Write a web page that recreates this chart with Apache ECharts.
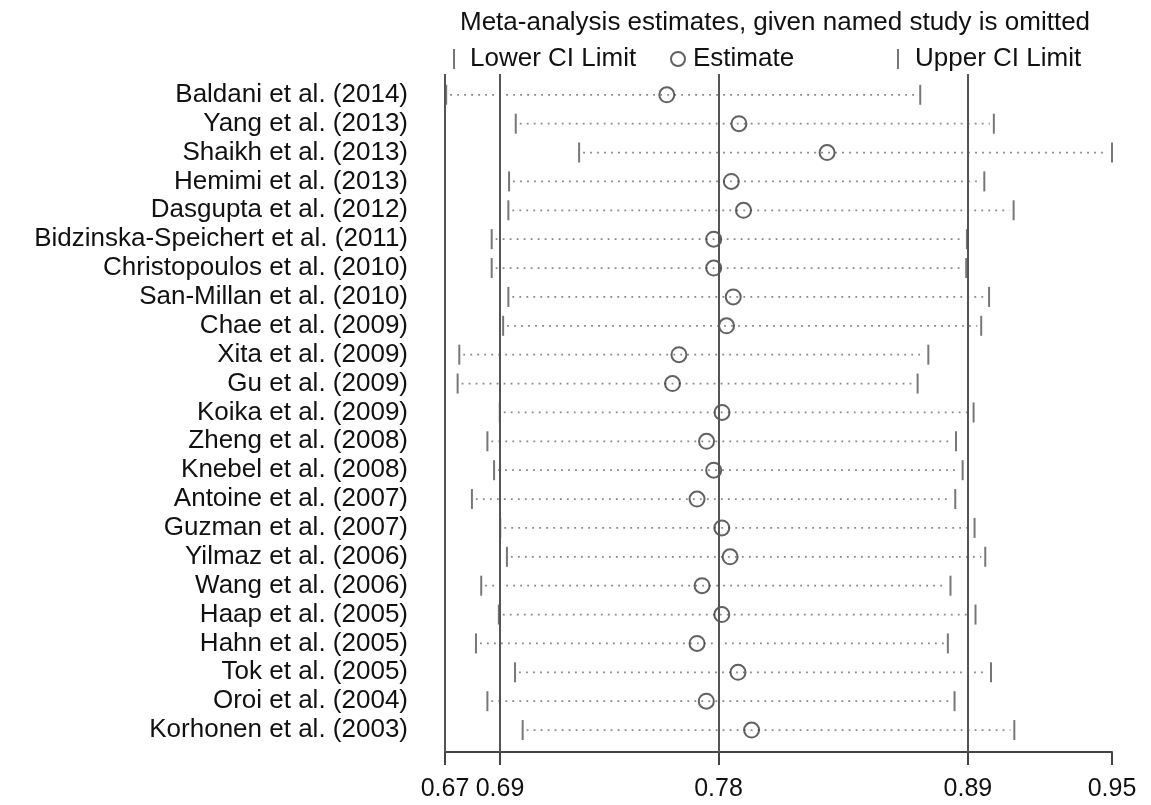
<!DOCTYPE html>
<html>
<head>
<meta charset="utf-8">
<script src="https://cdn.jsdelivr.net/npm/echarts@6/dist/echarts.min.js"></script>
<style>
  html, body { margin: 0; padding: 0; background: #fff; }
  #chart { width: 1151px; height: 805px; }
</style>
</head>
<body>
<div id="chart"></div>
<script>
// studies, top to bottom
const studies = [
  'Baldani et al. (2014)', 'Yang et al. (2013)', 'Shaikh et al. (2013)', 'Hemimi et al. (2013)',
  'Dasgupta et al. (2012)', 'Bidzinska-Speichert et al. (2011)', 'Christopoulos et al. (2010)',
  'San-Millan et al. (2010)', 'Chae et al. (2009)', 'Xita et al. (2009)', 'Gu et al. (2009)',
  'Koika et al. (2009)', 'Zheng et al. (2008)', 'Knebel et al. (2008)', 'Antoine et al. (2007)',
  'Guzman et al. (2007)', 'Yilmaz et al. (2006)', 'Wang et al. (2006)', 'Haap et al. (2005)',
  'Hahn et al. (2005)', 'Tok et al. (2005)', 'Oroi et al. (2004)', 'Korhonen et al. (2003)'
]
const lowerCI = [
  0.6705, 0.6997, 0.7263, 0.6969, 0.6966, 0.6896, 0.6896, 0.6966, 0.6944, 0.6760, 0.6753, 0.6930,
  0.6878, 0.6906, 0.6813, 0.6932, 0.6960, 0.6852, 0.6926, 0.6830, 0.6994, 0.6878, 0.7026
]
const estimate = [
  0.7631, 0.7934, 0.8304, 0.7902, 0.7953, 0.7828, 0.7828, 0.7910, 0.7882, 0.7682, 0.7655, 0.7863,
  0.7798, 0.7828, 0.7758, 0.7862, 0.7897, 0.7779, 0.7862, 0.7758, 0.7930, 0.7797, 0.7987
]
const upperCI = [
  0.8695, 0.9004, 0.9500, 0.8964, 0.9087, 0.8891, 0.8888, 0.8984, 0.8951, 0.8729, 0.8684, 0.8919,
  0.8845, 0.8873, 0.8842, 0.8923, 0.8968, 0.8822, 0.8927, 0.8811, 0.8992, 0.8839, 0.9090
]
// vertical reference lines: min, overall lower CI, overall estimate, overall upper CI
const refLines = [0.67, 0.6931, 0.7848, 0.8895]
const xTicks = [0.67, 0.6931, 0.7848, 0.8895, 0.95]

const font = "'Liberation Sans', Arial, sans-serif"
const chart = echarts.init(document.getElementById('chart'))

chart.setOption({
  animation: false,
  title: {
    text: 'Meta-analysis estimates, given named study is omitted',
    left: 455,
    top: 5,
    textStyle: { fontFamily: font, fontSize: 26, fontWeight: 'normal', color: '#111' }
  },
  legend: [
    {
      data: ['Lower CI Limit'], left: 448, top: 41, icon: 'rect', itemWidth: 2, itemHeight: 20,
      textStyle: { fontFamily: font, fontSize: 26, color: '#111', padding: [0, 0, 0, 10] }
    },
    {
      data: ['Estimate'], left: 665, top: 41, itemWidth: 14, itemHeight: 14,
      textStyle: { fontFamily: font, fontSize: 26, color: '#111', padding: [0, 0, 0, 3] }
    },
    {
      data: ['Upper CI Limit'], left: 892, top: 41, icon: 'rect', itemWidth: 2, itemHeight: 20,
      textStyle: { fontFamily: font, fontSize: 26, color: '#111', padding: [0, 0, 0, 11] }
    }
  ],
  grid: {
    left: 445,
    right: 39,
    top: 74,
    bottom: 53
  },
  xAxis: {
    type: 'value',
    min: 0.67,
    max: 0.95,
    splitLine: { show: false },
    axisLine: { show: true, onZero: false, lineStyle: { color: '#444', width: 2 } },
    axisTick: { show: true, customValues: xTicks, length: 13, lineStyle: { color: '#444', width: 2 } },
    axisLabel: {
      customValues: xTicks,
      formatter: v => v.toFixed(2),
      margin: 25,
      fontFamily: font,
      fontSize: 25,
      color: '#111'
    }
  },
  yAxis: {
    type: 'value',
    inverse: true,
    min: -0.72,
    max: 22.76,
    splitLine: { show: false },
    axisLine: { show: false },
    axisTick: { show: false },
    axisLabel: {
      customValues: studies.map((s, i) => i),
      formatter: v => studies[v] || '',
      margin: 37,
      fontFamily: font,
      fontSize: 26,
      color: '#111'
    }
  },
  series: [
    {
      name: 'ci',
      type: 'custom',
      silent: true,
      z: 1,
      encode: { x: [1, 2], y: 0 },
      data: studies.map((s, i) => [i, lowerCI[i], upperCI[i]]),
      renderItem: (params, api) => {
        const p1 = api.coord([api.value(1), api.value(0)])
        const p2 = api.coord([api.value(2), api.value(0)])
        return {
          type: 'line',
          shape: { x1: p1[0] + 4, y1: p1[1], x2: p2[0] - 4, y2: p2[1] },
          style: { stroke: '#888', lineWidth: 1.8, lineDash: [1.8, 5.2] }
        }
      }
    },
    {
      name: 'Lower CI Limit',
      type: 'scatter',
      symbol: 'rect',
      symbolSize: [2, 20],
      itemStyle: { color: '#555' },
      data: lowerCI.map((v, i) => [v, i])
    },
    {
      name: 'Upper CI Limit',
      type: 'scatter',
      symbol: 'rect',
      symbolSize: [2, 20],
      itemStyle: { color: '#555' },
      data: upperCI.map((v, i) => [v, i])
    },
    {
      name: 'Estimate',
      type: 'scatter',
      symbol: 'circle',
      symbolSize: 15,
      z: 3,
      itemStyle: { color: 'rgba(0,0,0,0)', borderColor: '#3a3a3a', borderWidth: 2 },
      data: estimate.map((v, i) => [v, i]),
      markLine: {
        silent: true,
        symbol: 'none',
        precision: 4,
        label: { show: false },
        lineStyle: { color: '#555', width: 2, type: 'solid' },
        data: refLines.map(v => ({ xAxis: v }))
      }
    }
  ]
})
</script>
</body>
</html>
